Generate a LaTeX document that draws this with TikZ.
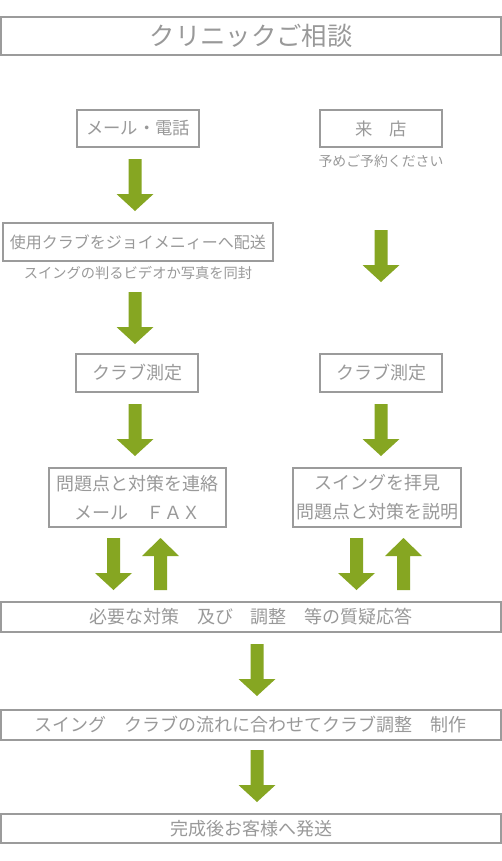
\documentclass[tikz,border=0pt]{standalone}
\usepackage{fontspec}
\setmainfont{Noto Sans CJK JP}
\definecolor{boxgray}{HTML}{9B9B9B}
\definecolor{txtgray}{HTML}{999999}
\definecolor{arrowgreen}{HTML}{86A622}
\tikzset{
  flowbox/.style={draw=boxgray, line width=1.5pt, fill=white, inner sep=0pt, text=txtgray},
  plain/.style={inner sep=0pt, text=txtgray},
  pics/dnarrow/.style={code={\fill[arrowgreen] (-6.5,0) -- (6.5,0) -- (6.5,35) -- (18.5,35) -- (0,52) -- (-18.5,35) -- (-6.5,35) -- cycle;}},
  pics/uparrow/.style={code={\fill[arrowgreen] (-6.5,52) -- (6.5,52) -- (6.5,18) -- (18.5,18) -- (0,0) -- (-18.5,18) -- (-6.5,18) -- cycle;}},
}
\begin{document}
\begin{tikzpicture}[x=0.75pt, y=-0.75pt]
\useasboundingbox (0,0) rectangle (502,861);
\fill[white] (0,0) rectangle (502,861);
% boxes
\node[flowbox, minimum width=375pt, minimum height=28.5pt, font=\fontsize{19}{22}\selectfont] (title) at (251,36) {クリニックご相談};
\node[flowbox, minimum width=91.5pt, minimum height=27.75pt, font=\fontsize{13}{16}\selectfont] (mail) at (138,128.5) {メール・電話};
\node[flowbox, minimum width=91.5pt, minimum height=27.75pt, font=\fontsize{13}{16}\selectfont] (visit) at (381,128.5) {来　店};
\node[plain, font=\fontsize{10.4}{12}\selectfont] (resv) at (381,161) {予めご予約ください};
\node[flowbox, minimum width=202.5pt, minimum height=28.5pt, font=\fontsize{12}{15}\selectfont] (send) at (138,242) {使用クラブをジョイメニィーへ配送};
\node[plain, font=\fontsize{10.7}{13}\selectfont] (video) at (138,273) {スイングの判るビデオか写真を同封};
\node[flowbox, minimum width=91.5pt, minimum height=28.5pt, font=\fontsize{13.5}{16}\selectfont] (measL) at (137,373) {クラブ測定};
\node[flowbox, minimum width=91.5pt, minimum height=28.5pt, font=\fontsize{13.5}{16}\selectfont] (measR) at (381,373) {クラブ測定};
\node[flowbox, minimum width=132.75pt, minimum height=44.25pt, align=center, font=\fontsize{13.5}{21.75}\selectfont] (contL) at (137.5,497.5) {問題点と対策を連絡\\メール　ＦＡＸ};
\node[flowbox, minimum width=126pt, minimum height=44.25pt, align=center, font=\fontsize{13.5}{21.75}\selectfont] (contR) at (377,497.5) {スイングを拝見\\問題点と対策を説明};
\node[flowbox, minimum width=375pt, minimum height=22.5pt, font=\fontsize{13.5}{16}\selectfont] (qa) at (251,617) {必要な対策　及び　調整　等の質疑応答};
\node[flowbox, minimum width=375pt, minimum height=22.5pt, font=\fontsize{13.5}{16}\selectfont] (craft) at (251,725) {スイング　クラブの流れに合わせてクラブ調整　制作};
\node[flowbox, minimum width=375pt, minimum height=21.75pt, font=\fontsize{13.5}{16}\selectfont] (deliver) at (251,828.5) {完成後お客様へ発送};
% arrows
\pic (a1) at (135,159) {dnarrow};
\pic (a2) at (381,230) {dnarrow};
\pic (a3) at (135,292) {dnarrow};
\pic (a4) at (135,404) {dnarrow};
\pic (a5) at (381,404) {dnarrow};
\pic (a6) at (113.5,538) {dnarrow};
\pic (a7) at (160.5,538) {uparrow};
\pic (a8) at (356.5,538) {dnarrow};
\pic (a9) at (403.5,538) {uparrow};
\pic (a10) at (257,644) {dnarrow};
\pic (a11) at (257,750) {dnarrow};
\end{tikzpicture}
\end{document}
